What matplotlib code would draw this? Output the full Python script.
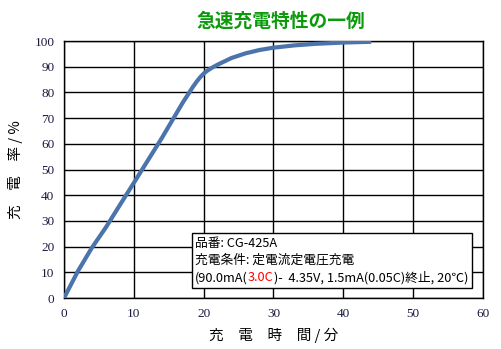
import matplotlib
matplotlib.use("Agg")
import matplotlib.pyplot as plt
from matplotlib.offsetbox import TextArea, HPacker, VPacker, AnnotationBbox

# charge time (min) vs state of charge (%)
minutes = [0, 2, 4, 6, 8, 10, 12, 14, 16, 17, 18, 18.5, 19, 19.5, 20, 20.5, 21, 22, 24, 26, 28, 30, 33, 36, 40, 44]
charge = [0, 10.5, 19.6, 27.5, 36.2, 44.8, 53.5, 62.2, 71.4, 76.0, 80.2, 82.3, 84.2, 85.9, 87.3, 88.4, 89.3, 90.8, 93.4, 95.2, 96.5, 97.4, 98.3, 98.9, 99.4, 99.7]

xticks = [0, 10, 20, 30, 40, 50, 60]
yticks = [0, 10, 20, 30, 40, 50, 60, 70, 80, 90, 100]

title = "急速充電特性の一例"
xlabel = "充　電　時　間 / 分"
ylabel = "充　電　率 / %"
note_lines = [
    [("品番: CG-425A", "black")],
    [("充電条件: 定電流定電圧充電", "black")],
    [("(90.0mA(", "black"), ("3.0C", "red"), (")-  4.35V, 1.5mA(0.05C)終止, 20℃)", "black")],
]

jp = ["Noto Sans CJK JP", "DejaVu Sans"]
serif = "Liberation Serif"

fig = plt.figure(figsize=(5.02, 3.49), dpi=100)
ax = fig.add_axes([0.1275, 0.146, 0.8345, 0.7365])

ax.plot(minutes, charge, color="#4a74ab", lw=3.0, solid_capstyle="butt", zorder=3)

ax.set_xlim(0, 60)
ax.set_ylim(0, 100)
ax.set_xticks(xticks)
ax.set_yticks(yticks)
ax.set_xticklabels([str(v) for v in xticks], family=serif, fontsize=9.5, color="#1a1a40")
ax.set_yticklabels([str(v) for v in yticks], family=serif, fontsize=9.5, color="#1a1a40")
ax.tick_params(length=0, pad=7)
ax.grid(True, color="black", lw=1)
ax.set_axisbelow(True)
for s in ax.spines.values():
    s.set_color("black")
    s.set_linewidth(1)

ax.set_xlabel(xlabel, family=jp, fontsize=10.5, labelpad=6)
ax.set_ylabel(ylabel, family=jp, fontsize=10.5, labelpad=8)

fig.text(0.56, 0.94, title, family=jp, fontsize=13.5, fontweight="bold",
         color="#0a9a0a", ha="center", va="center")

# condition box
rows = []
for line in note_lines:
    parts = [TextArea(t, textprops=dict(family=jp, fontsize=9.2, color=c)) for t, c in line]
    rows.append(HPacker(children=parts, pad=0, sep=0))
box = VPacker(children=rows, pad=0, sep=3, align="left")
ab = AnnotationBbox(box, (18.8, 5.3), xycoords="data", box_alignment=(0, 0),
                    pad=0.25, frameon=True, zorder=5,
                    bboxprops=dict(edgecolor="black", facecolor="white", lw=1, boxstyle="square,pad=0.25"))
ax.add_artist(ab)

fig.savefig("out.png", dpi=100, facecolor="white")
